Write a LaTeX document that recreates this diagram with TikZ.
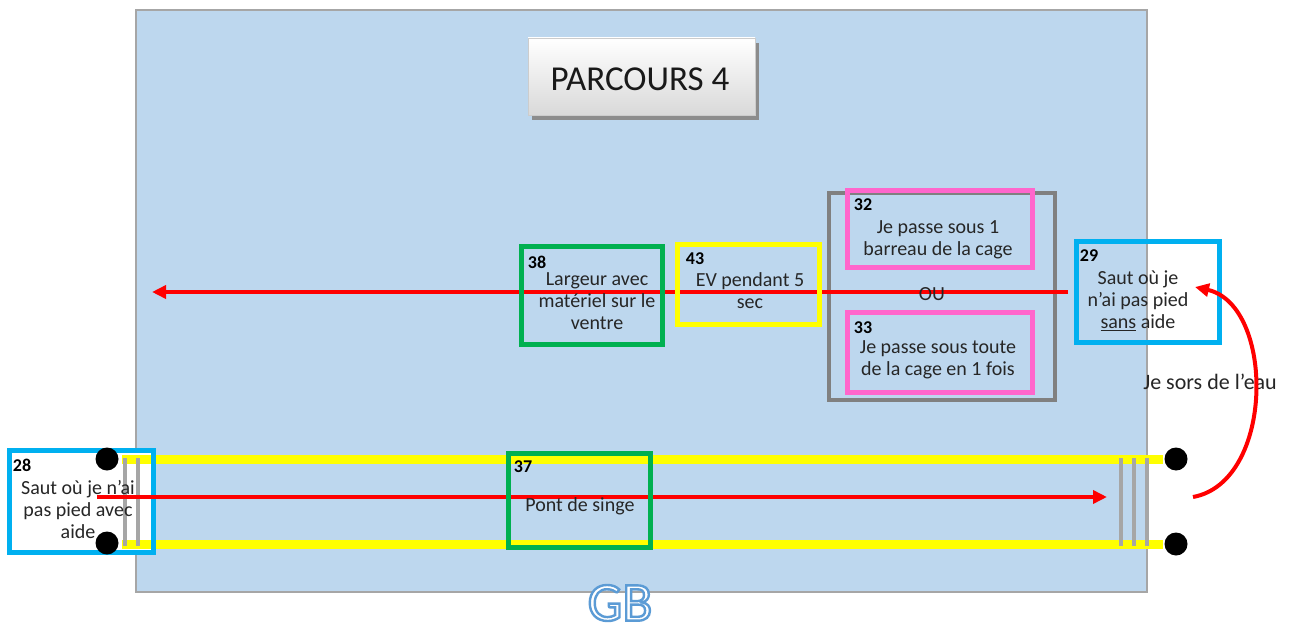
\documentclass[tikz,border=0pt]{standalone}
\usepackage{fontspec}
\setmainfont{Carlito}
\usetikzlibrary{arrows.meta}
\definecolor{poolfill}{HTML}{BDD7EE}
\definecolor{poolline}{HTML}{A6A6A6}
\definecolor{gframe}{HTML}{00B050}
\definecolor{yframe}{HTML}{FFFF00}
\definecolor{pframe}{HTML}{FF66CC}
\definecolor{bframe}{HTML}{00B0F0}
\definecolor{grayframe}{HTML}{808080}
\definecolor{barcol}{HTML}{A6A6A6}
\definecolor{gbblue}{HTML}{5B9BD5}
\definecolor{shadowcol}{HTML}{8C8C8C}
\begin{document}
\begin{tikzpicture}[x=1pt,y=-1pt,
  frame/.style={draw, line width=5pt, inner sep=0pt},
  txt/.style={font=\fontsize{20}{22}\selectfont, align=center, inner sep=0pt, text=black!85},
  num/.style={font=\fontsize{18}{20}\selectfont\bfseries, inner sep=0pt},
  redarrow/.style={draw=red, line width=4pt, -{Triangle[length=14pt,width=13pt]}},
  rope/.style={draw=yframe, line width=9pt},
  bar/.style={draw=barcol, line width=4pt},
  dot/.style={circle, fill=black, minimum size=23pt, inner sep=0pt},
  gbtxt/.style={font=\fontsize{55}{58}\selectfont, inner sep=0pt}]
\useasboundingbox (0,0) rectangle (1290,626);
\fill[white] (0,0) rectangle (1290,626);
% pool
\draw[fill=poolfill, draw=poolline, line width=2pt] (136,10) rectangle (1147,592);
% title
\fill[shadowcol] (532,43) rectangle (759,120);
\node[draw=black!20, line width=0.8pt, top color=white, bottom color=black!15, minimum width=227pt, minimum height=77pt, inner sep=0pt] (title) at (641.5,76.5) {};
\node[font=\fontsize{35}{38}\selectfont, text=black!90] (titletxt) at (640,79) {PARCOURS 4};
% gray alternative frame
\node[frame, draw=grayframe, line width=4pt, minimum width=226pt, minimum height=207pt] (alt) at (942,296.5) {};
% upper red arrow
\coordinate (r1s) at (1068,292);
\coordinate (r1e) at (152,292);
\draw[redarrow] (r1s) -- (r1e);
% boxes upper row
\node[frame, draw=gframe, minimum width=141pt, minimum height=98pt] (b38) at (592,295.5) {};
\node[frame, draw=yframe, minimum width=142pt, minimum height=80pt] (b43) at (748.5,284.5) {};
\node[frame, draw=pframe, minimum width=185pt, minimum height=77pt] (b32) at (940,229) {};
\node[frame, draw=pframe, minimum width=185pt, minimum height=80pt] (b33) at (940,352.5) {};
\node[frame, draw=bframe, minimum width=143pt, minimum height=101pt] (b29) at (1148,292) {};
% texts upper row
\node[num] (n38) at (537,262) {38};
\node[txt] (t38) at (597,301) {Largeur avec\\matériel sur le\\ventre};
\node[num] (n43) at (695,259) {43};
\node[txt] (t43) at (750,291) {EV pendant 5\\sec};
\node[num] (n32) at (863,205) {32};
\node[txt] (t32) at (938,240) {Je passe sous 1\\barreau de la cage};
\node[txt] (ou) at (932,294) {OU};
\node[num] (n33) at (863,328) {33};
\node[txt] (t33) at (938,360) {Je passe sous toute\\de la cage en 1 fois};
\node[num] (n29) at (1089,256) {29};
\node[txt] (t29) at (1138,301) {Saut où je\\n’ai pas pied\\\underline{sans} aide};
% sortie
\node[txt, font=\fontsize{22}{24}\selectfont] (sors) at (1210,382) {Je sors de l’eau};
\coordinate (c1) at (1193,497);
\coordinate (c2) at (1195,287);
\draw[redarrow] (c1) .. controls (1275,482) and (1275,305) .. (c2);
% box 28 background
\node[fill=white, minimum width=144pt, minimum height=102pt, inner sep=0pt] (b28bg) at (81.5,501.5) {};
% ropes
\coordinate (ya1) at (122,459.5);
\coordinate (ya2) at (1163,459.5);
\coordinate (yb1) at (122,544.5);
\coordinate (yb2) at (1163,544.5);
\draw[rope] (ya1) -- (ya2);
\draw[rope] (yb1) -- (yb2);
% bars
\foreach \i/\x in {1/125,2/138} {
  \coordinate (lbt\i) at (\x,458);
  \coordinate (lbb\i) at (\x,546);
  \draw[bar] (lbt\i) -- (lbb\i);
}
\foreach \i/\x in {1/1121,2/1134,3/1147} {
  \coordinate (rbt\i) at (\x,458);
  \coordinate (rbb\i) at (\x,546);
  \draw[bar] (rbt\i) -- (rbb\i);
}
% box 28 frame
\node[frame, draw=bframe, minimum width=144pt, minimum height=102pt] (b28) at (81.5,501.5) {};
\node[num] (n28) at (22,465) {28};
\node[txt] (t28) at (78,510) {Saut où je n’ai\\pas pied avec\\aide};
% dots
\node[dot] (d1) at (107,459) {};
\node[dot] (d2) at (107,543) {};
\node[dot] (d3) at (1176,459) {};
\node[dot] (d4) at (1176,544) {};
% lower red arrow
\coordinate (r2s) at (97,497);
\coordinate (r2e) at (1107,497);
\draw[redarrow] (r2s) -- (r2e);
% box 37
\node[frame, draw=gframe, minimum width=142pt, minimum height=94pt] (b37) at (579.5,500.5) {};
\node[num] (n37) at (523,467) {37};
\node[txt] (t37) at (580,506) {Pont de singe};
% GB (outlined letters)
\node[gbtxt, text=white] (gb) at (620,603) {\special{pdf:literal direct q 2 Tr 2.4 w 0.357 0.608 0.835 RG}GB\special{pdf:literal direct Q}};
\end{tikzpicture}
\end{document}
